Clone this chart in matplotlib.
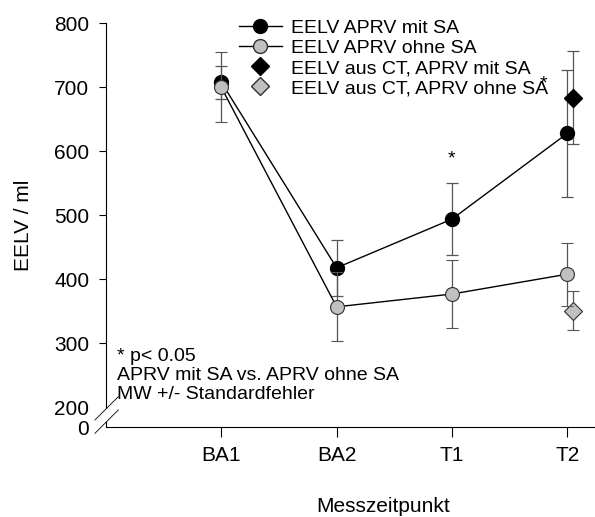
import matplotlib
matplotlib.use("Agg")
import matplotlib.pyplot as plt
from matplotlib.lines import Line2D

plt.rcParams['font.family'] = ['Liberation Sans', 'DejaVu Sans']

# Data
zeitpunkte = ['BA1', 'BA2', 'T1', 'T2']
x_pos = [1, 2, 3, 4]

mit_sa = [708, 418, 494, 628]
mit_sa_se = [26, 44, 56, 99]

ohne_sa = [700, 357, 377, 408]
ohne_sa_se = [55, 54, 53, 49]

ct_x = [4.045]
ct_mit_sa = [684]
ct_mit_sa_se = [72]
ct_ohne_sa = [351]
ct_ohne_sa_se = [30]

y_ticks = [200, 300, 400, 500, 600, 700, 800]
y_bottom = 169.2   # where "0" sits after the axis break

grau = '#c0c0c0'
fehler = '#555555'

fig = plt.figure(figsize=(5.95, 5.17), dpi=100)
ax = fig.add_axes([0.178, 0.174, 0.822, 0.781])

# lines + markers
ax.errorbar(x_pos, mit_sa, yerr=mit_sa_se, color='black', ecolor=fehler,
            elinewidth=0.9, capsize=4, capthick=0.9, lw=1.0, marker='o',
            ms=10, mfc='black', mec='black', zorder=3)
ax.errorbar(x_pos, ohne_sa, yerr=ohne_sa_se, color='black', ecolor=fehler,
            elinewidth=0.9, capsize=4, capthick=0.9, lw=1.0, marker='o',
            ms=10, mfc=grau, mec='#303030', mew=0.8, zorder=4)
ax.errorbar(ct_x, ct_mit_sa, yerr=ct_mit_sa_se, fmt='D', color='black',
            ecolor=fehler, elinewidth=0.9, capsize=4, capthick=0.9,
            ms=9, mfc='black', mec='black', zorder=3)
ax.errorbar(ct_x, ct_ohne_sa, yerr=ct_ohne_sa_se, fmt='D', color='black',
            ecolor=fehler, elinewidth=0.9, capsize=4, capthick=0.9,
            ms=9, mfc=grau, mec='#303030', mew=0.8, zorder=3)

# significance stars
ax.text(3, 588, '*', ha='center', va='center', fontsize=14)
ax.text(3.79, 705, '*', ha='center', va='center', fontsize=14)

ax.set_xlim(0, 4.24)
ax.set_ylim(y_bottom, 800)
ax.set_xticks(x_pos)
ax.set_xticklabels(zeitpunkte, fontsize=15)
ax.set_yticks([y_bottom] + y_ticks)
ax.set_yticklabels(['0'] + [str(t) for t in y_ticks], fontsize=15)
ax.tick_params(axis='x', length=7, width=0.8, pad=7)
ax.tick_params(axis='y', length=5, width=0.8, pad=7)
ax.yaxis.get_major_ticks()[0].tick1line.set_visible(False)
ax.yaxis.get_major_ticks()[1].tick1line.set_visible(False)

ax.spines['top'].set_visible(False)
ax.spines['right'].set_visible(False)
ax.spines['left'].set_bounds(198.4, 800)
ax.spines['left'].set_linewidth(0.8)
ax.spines['bottom'].set_linewidth(0.8)

# axis break
ax.plot([0, 0], [y_bottom, 177.5], color='black', lw=0.8, clip_on=False)
ax.plot([-0.095, 0.107], [180.2, 216.6], color='black', lw=0.6, clip_on=False)
ax.plot([-0.095, 0.107], [159.4, 195.8], color='black', lw=0.6, clip_on=False)

fig.text(24 / 595, 1 - 225 / 517, 'EELV / ml', rotation=90, ha='center',
         va='center', fontsize=15)
fig.text(383 / 595, 1 - 506 / 517, 'Messzeitpunkt', ha='center', va='center',
         fontsize=15)

# notes
ax.text(0.1, 250, '* p< 0.05\nAPRV mit SA vs. APRV ohne SA\nMW +/- Standardfehler',
        ha='left', va='center', fontsize=14, linespacing=1.15)

handles = [
    Line2D([], [], color='black', lw=1.0, marker='o', ms=10, mfc='black', mec='black'),
    Line2D([], [], color='black', lw=1.0, marker='o', ms=10, mfc=grau, mec='#303030'),
    Line2D([], [], lw=0, marker='D', ms=9, mfc='black', mec='black'),
    Line2D([], [], lw=0, marker='D', ms=9, mfc=grau, mec='#303030'),
]
labels = ['EELV APRV mit SA', 'EELV APRV ohne SA',
          'EELV aus CT, APRV mit SA', 'EELV aus CT, APRV ohne SA']
ax.legend(handles, labels, loc='upper left', bbox_to_anchor=(0.252, 1.033),
          frameon=False, fontsize=14, handlelength=2.2, handletextpad=0.5,
          labelspacing=0.12, borderpad=0)

fig.savefig('out.png', dpi=100)
